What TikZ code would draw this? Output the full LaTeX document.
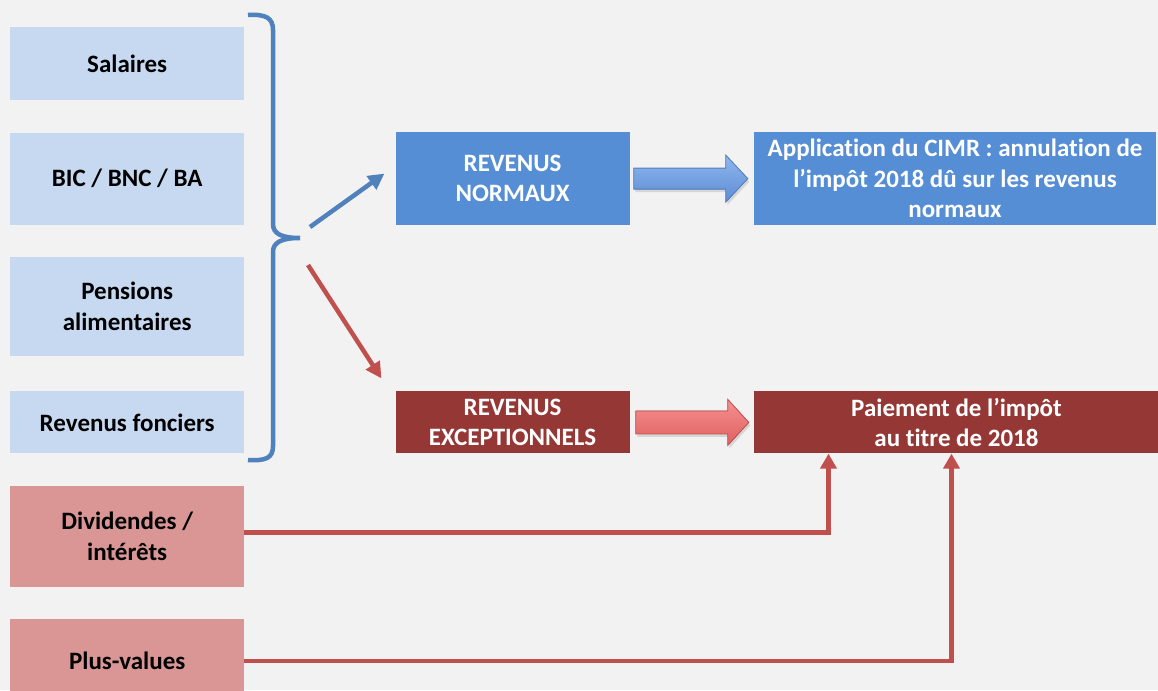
\documentclass[tikz,border=0pt]{standalone}
\usepackage{fontspec}
\setmainfont[Ligatures=NoCommon]{Carlito}
\usetikzlibrary{positioning,calc,arrows.meta,shadows}

\definecolor{bggrey}{HTML}{F2F2F2}
\definecolor{lightblue}{HTML}{C6D9F1}
\definecolor{pinkred}{HTML}{D99694}
\definecolor{midblue}{HTML}{558ED5}
\definecolor{darkred}{HTML}{953735}
\definecolor{lineblue}{HTML}{4F81BD}
\definecolor{linered}{HTML}{C0504D}
\definecolor{fatbluetop}{HTML}{90B6EE}
\definecolor{fatbluebot}{HTML}{5D8DD6}
\definecolor{fatredtop}{HTML}{F79090}
\definecolor{fatredbot}{HTML}{DE6060}

\begin{document}
\begin{tikzpicture}[x=1pt, y=-1pt,
    txt/.style={font=\bfseries\fontsize{25}{30.5}\selectfont, align=center, inner sep=0pt},
    srcbox/.style={txt, fill=lightblue, minimum width=234pt, text=black},
    capbox/.style={txt, fill=pinkred, minimum width=234pt, text=black},
    revbox/.style={txt, minimum width=234pt, text=white},
    resbox/.style={txt, text=white},
    bracket/.style={draw=lineblue, line width=4.5pt},
    thinblue/.style={draw=lineblue, line width=4.5pt, -{Triangle[length=16pt, width=16pt]}},
    thinred/.style={draw=linered, line width=4.5pt, -{Triangle[length=16pt, width=16pt]}},
    capline/.style={draw=linered, line width=4.5pt, -{Triangle[length=15pt, width=16pt]}},
    fatshadow/.style={drop shadow={opacity=0.25, shadow xshift=1.5pt, shadow yshift=-3pt}},
    fatblue/.style={draw=lineblue, line width=0.8pt, top color=fatbluetop, bottom color=fatbluebot, fatshadow},
    fatred/.style={draw=linered, line width=0.8pt, top color=fatredtop, bottom color=fatredbot, fatshadow},
]
\path[use as bounding box, fill=bggrey] (0,0) rectangle (1158,690);

%% left column: incomes
\node[srcbox, minimum height=73pt, anchor=north west] (sal) at (10,27) {Salaires};
\node[srcbox, minimum height=92pt, below=32pt of sal] (bic) {BIC / BNC / BA};
\node[srcbox, minimum height=99pt, below=32pt of bic] (pens) {Pensions\\alimentaires};
\node[srcbox, minimum height=62pt, below=35pt of pens] (fonc) {Revenus fonciers};
\node[capbox, minimum height=101pt, below=32pt of fonc] (div) {Dividendes /\\intérêts};
\node[capbox, minimum height=84pt, below=32pt of div] (pv) {Plus-values};

%% middle and right columns
\node[revbox, fill=midblue, minimum height=93pt, right=151pt of bic] (norm) {REVENUS\\NORMAUX};
\node[revbox, fill=darkred, minimum height=62pt, right=151pt of fonc] (exc) {REVENUS\\EXCEPTIONNELS};
\node[resbox, fill=midblue, minimum width=402pt, minimum height=93pt, right=124pt of norm] (app)
    {Application du CIMR : annulation de\\l’impôt 2018 dû sur les revenus\\normaux};
\node[resbox, fill=darkred, minimum width=405pt, minimum height=62pt, right=124pt of exc] (pay)
    {Paiement de l’impôt\\au titre de 2018};

%% brace round the four first incomes
\coordinate (tip) at (300,238);
\draw[bracket] (248,15) .. controls (266,14) and (273,18) .. (273,30) -- (273,224)
    .. controls (273,234) and (282,238) .. (tip)
    .. controls (282,238) and (273,242) .. (273,252) -- (273,446)
    .. controls (273,458) and (266,461) .. (248,460);

\coordinate (nstart) at (310,227);
\coordinate (estart) at (308,265);
\draw[thinblue] (nstart) -- ($(norm.west)+(-11,-5)$);
\draw[thinred] (estart) -- ($(exc.west)+(-14,-44)$);

%% fat arrows
\filldraw[fatblue] ($(norm.east)+(4,-10.5)$) -- ($(app.west)+(-28,-10.5)$) -- ($(app.west)+(-28,-23.5)$)
    -- ($(app.west)+(-6,0)$) -- ($(app.west)+(-28,23.5)$) -- ($(app.west)+(-28,10.5)$)
    -- ($(norm.east)+(4,10.5)$) -- cycle;
\filldraw[fatred] ($(exc.east)+(6,-11.5)$) -- ($(pay.west)+(-26,-11.5)$) -- ($(pay.west)+(-26,-23)$)
    -- ($(pay.west)+(-5,0)$) -- ($(pay.west)+(-26,23)$) -- ($(pay.west)+(-26,11.5)$)
    -- ($(exc.east)+(6,11.5)$) -- cycle;

%% capital incomes straight to the payment
\draw[capline] ($(div.east)+(0,-4)$) -| ($(pay.south)+(-128,0)$);
\draw[capline] (pv.east) -| ($(pay.south)+(-5,0)$);
\end{tikzpicture}
\end{document}
